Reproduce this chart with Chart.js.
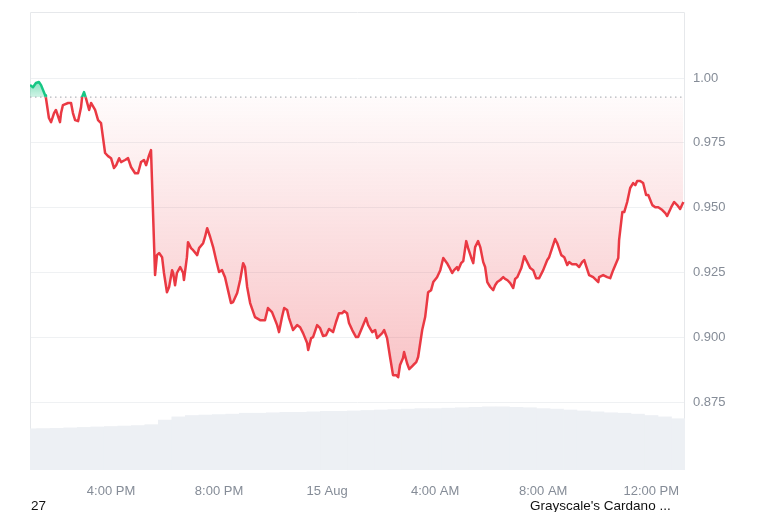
<!DOCTYPE html>
<html>
<head>
<meta charset="utf-8">
<script src="https://cdn.jsdelivr.net/npm/chart.js@4.4.1/dist/chart.umd.min.js"></script>
<style>
  body { margin: 0; background: #fff; }
  #wrap { position: relative; width: 768px; height: 512px; overflow: hidden; }
  .pie { position: absolute; top: 498px; font: 13.5px 'Liberation Sans', Arial, sans-serif; color: #111; white-space: nowrap; }
</style>
</head>
<body>
<div id="wrap">
  <canvas id="grafica" width="768" height="512"></canvas>
  <div class="pie" style="left:31px">27</div>
  <div class="pie" style="left:530px">Grayscale's Cardano ...</div>
</div>
<script>
// hours since 13:00 (14 Aug)
const horas = [
  0.00,0.11,0.22,0.33,0.41,0.56,0.59,0.70,0.78,0.89,
  0.96,1.11,1.15,1.22,1.41,1.52,1.59,1.67,1.78,1.89,
  1.93,2.00,2.07,2.19,2.26,2.41,2.52,2.63,2.70,2.78,
  2.89,3.00,3.11,3.19,3.30,3.37,3.52,3.63,3.74,3.89,
  4.00,4.11,4.22,4.30,4.41,4.48,4.63,4.70,4.78,4.89,
  4.96,5.07,5.15,5.26,5.30,5.37,5.44,5.56,5.67,5.70,
  5.81,5.85,5.96,6.04,6.19,6.26,6.41,6.48,6.56,6.67,
  6.78,6.89,7.00,7.11,7.22,7.33,7.44,7.52,7.67,7.78,
  7.89,7.96,8.04,8.15,8.33,8.52,8.70,8.81,8.96,9.15,
  9.22,9.33,9.41,9.52,9.59,9.74,9.89,10.00,10.11,10.26,
  10.30,10.41,10.48,10.63,10.74,10.85,10.96,11.07,11.22,11.33,
  11.44,11.56,11.63,11.74,11.81,11.93,12.07,12.15,12.30,12.44,
  12.52,12.67,12.78,12.85,13.04,13.11,13.22,13.33,13.44,13.56,
  13.63,13.70,13.81,13.85,13.96,14.04,14.19,14.30,14.37,14.52,
  14.63,14.74,14.85,14.93,15.07,15.19,15.30,15.44,15.52,15.63,
  15.70,15.81,15.85,15.96,16.04,16.15,16.22,16.33,16.41,16.48,
  16.59,16.67,16.78,16.85,16.93,17.04,17.15,17.22,17.30,17.41,
  17.52,17.59,17.67,17.78,17.89,17.96,18.04,18.19,18.30,18.41,
  18.52,18.63,18.74,18.85,19.00,19.15,19.22,19.33,19.44,19.52,
  19.67,19.78,19.89,19.96,20.07,20.22,20.33,20.44,20.52,20.59,
  20.70,20.85,21.04,21.07,21.22,21.37,21.48,21.59,21.78,21.81,
  21.93,22.00,22.11,22.22,22.33,22.41,22.48,22.59,22.70,22.81,
  22.89,23.04,23.15,23.26,23.41,23.52,23.59,23.74,23.85,23.96,
  24.07,24.19
];
const precios = [
  0.9973,0.9965,0.9981,0.9985,0.9973,0.9934,0.9923,0.9846,0.9830,0.9865,
  0.9877,0.9830,0.9865,0.9896,0.9904,0.9904,0.9865,0.9838,0.9834,0.9888,
  0.9927,0.9946,0.9923,0.9877,0.9904,0.9877,0.9838,0.9826,0.9772,0.9711,
  0.9699,0.9691,0.9653,0.9664,0.9691,0.9676,0.9684,0.9691,0.9657,0.9633,
  0.9633,0.9676,0.9684,0.9664,0.9703,0.9722,0.9240,0.9317,0.9325,0.9309,
  0.9248,0.9174,0.9194,0.9259,0.9248,0.9201,0.9248,0.9271,0.9248,0.9221,
  0.9309,0.9367,0.9344,0.9336,0.9317,0.9344,0.9363,0.9387,0.9421,0.9387,
  0.9348,0.9298,0.9252,0.9259,0.9232,0.9182,0.9132,0.9136,0.9171,0.9221,
  0.9286,0.9271,0.9194,0.9132,0.9078,0.9066,0.9066,0.9113,0.9097,0.9047,
  0.9020,0.9078,0.9113,0.9105,0.9074,0.9028,0.9047,0.9039,0.9016,0.8978,
  0.8951,0.8997,0.9001,0.9047,0.9035,0.9005,0.9008,0.9032,0.9020,0.9059,
  0.9093,0.9093,0.9101,0.9093,0.9055,0.9028,0.9001,0.9001,0.9039,0.9074,
  0.9047,0.9020,0.9028,0.8997,0.9016,0.9028,0.8997,0.8924,0.8854,0.8854,
  0.8846,0.8893,0.8920,0.8943,0.8900,0.8877,0.8893,0.8904,0.8924,0.9028,
  0.9078,0.9174,0.9182,0.9213,0.9232,0.9259,0.9306,0.9286,0.9271,0.9248,
  0.9259,0.9271,0.9259,0.9286,0.9294,0.9371,0.9344,0.9309,0.9286,0.9348,
  0.9371,0.9348,0.9290,0.9271,0.9213,0.9194,0.9182,0.9201,0.9213,0.9221,
  0.9232,0.9225,0.9221,0.9209,0.9190,0.9225,0.9232,0.9267,0.9313,0.9290,
  0.9267,0.9259,0.9228,0.9228,0.9259,0.9298,0.9309,0.9344,0.9379,0.9363,
  0.9317,0.9309,0.9279,0.9290,0.9282,0.9282,0.9271,0.9290,0.9298,0.9275,
  0.9240,0.9232,0.9213,0.9232,0.9240,0.9232,0.9228,0.9259,0.9306,0.9375,
  0.9483,0.9483,0.9522,0.9576,0.9595,0.9587,0.9603,0.9603,0.9595,0.9549,
  0.9549,0.9510,0.9502,0.9502,0.9491,0.9479,0.9468,0.9502,0.9522,0.9510,
  0.9495,0.9522
];
// volume, one value every 30 min from 13:00
const volumen = [
  9.0,9.05,9.1,9.2,9.3,9.4,9.5,9.6,9.7,9.9,
  10.9,11.6,11.9,12.0,12.1,12.2,12.4,12.4,12.5,12.6,
  12.6,12.7,12.8,12.8,12.9,13.0,13.1,13.2,13.3,13.4,
  13.4,13.5,13.6,13.7,13.8,13.8,13.7,13.6,13.4,13.3,
  13.1,12.9,12.7,12.5,12.4,12.2,11.9,11.6,11.2
];
const precioBase = 0.99267;
const ticksHoras = [3, 7, 11, 15, 19, 23];
const etiquetasX = ["4:00 PM", "8:00 PM", "15 Aug", "4:00 AM", "8:00 AM", "12:00 PM"];
const ticksY = [0.875, 0.9, 0.925, 0.95, 0.975, 1.0];
const etiquetasY = ["0.875", "0.900", "0.925", "0.950", "0.975", "1.00"];

const rojo = "#ea3943";
const verde = "#16c784";

Chart.defaults.font.family = "'Liberation Sans', Arial, sans-serif";

function gradLinea(chart){
  const {ctx, chartArea, scales} = chart;
  if (!chartArea) return rojo;
  const yb = scales.y.getPixelForValue(precioBase);
  let f = (yb - chartArea.top) / (chartArea.bottom - chartArea.top);
  f = Math.min(Math.max(f, 0), 1);
  const g = ctx.createLinearGradient(0, chartArea.top, 0, chartArea.bottom);
  g.addColorStop(0, verde);
  g.addColorStop(f, verde);
  g.addColorStop(f, rojo);
  g.addColorStop(1, rojo);
  return g;
}

function gradAbajo(chart){
  const {ctx, chartArea, scales} = chart;
  if (!chartArea) return "rgba(234,57,67,0.1)";
  const yb = scales.y.getPixelForValue(precioBase);
  const yMin = scales.y.getPixelForValue(Math.min(...precios));
  const g = ctx.createLinearGradient(0, yb, 0, yMin);
  g.addColorStop(0, "rgba(234,57,67,0.02)");
  g.addColorStop(1, "rgba(234,57,67,0.30)");
  return g;
}

function gradArriba(chart){
  const {ctx, chartArea, scales} = chart;
  if (!chartArea) return "rgba(22,199,132,0.3)";
  const yb = scales.y.getPixelForValue(precioBase);
  const yMax = scales.y.getPixelForValue(Math.max(...precios));
  const g = ctx.createLinearGradient(0, yMax, 0, yb);
  g.addColorStop(0, "rgba(22,199,132,0.5)");
  g.addColorStop(1, "rgba(22,199,132,0.2)");
  return g;
}

const marco = {
  id: "marco",
  beforeDatasetsDraw(chart){
    const {ctx, chartArea: a} = chart;
    ctx.save();
    ctx.strokeStyle = "#e6e8eb";
    ctx.lineWidth = 1;
    ctx.beginPath();
    ctx.moveTo(a.left + 0.5, a.bottom);
    ctx.lineTo(a.left + 0.5, a.top + 0.5);
    ctx.lineTo(a.right - 0.5, a.top + 0.5);
    ctx.lineTo(a.right - 0.5, a.bottom);
    ctx.stroke();
    ctx.restore();
  }
};

const grafica = new Chart("grafica", {
  type: "line",
  data: {
    datasets: [
      {
        type: "line",
        label: "base",
        data: [{x: 0, y: precioBase}, {x: 24.25, y: precioBase}],
        borderColor: "#9ea4ac",
        borderWidth: 1,
        borderDash: [1.5, 3.5],
        pointRadius: 0,
        fill: false,
        yAxisID: "y",
        order: 0
      },
      {
        type: "line",
        label: "precio",
        data: horas.map((h, i) => ({x: h, y: precios[i]})),
        borderColor: (c) => gradLinea(c.chart),
        borderWidth: 2.5,
        borderJoinStyle: "round",
        pointRadius: 0,
        tension: 0,
        fill: (c) => ({target: {value: precioBase}, above: gradArriba(c.chart), below: gradAbajo(c.chart)}),
        yAxisID: "y",
        order: 1
      },
      {
        type: "bar",
        label: "volumen",
        data: volumen.map((v, i) => ({x: i * 0.5, y: v})),
        backgroundColor: "#edf0f4",
        borderWidth: 0,
        barPercentage: 1,
        categoryPercentage: 1,
        yAxisID: "yVol",
        order: 2
      }
    ]
  },
  plugins: [marco],
  options: {
    responsive: false,
    animation: false,
    devicePixelRatio: 1,
    layout: {padding: {left: 30, top: 12, right: 0, bottom: 0}},
    plugins: {
      legend: {display: false},
      tooltip: {enabled: false}
    },
    scales: {
      x: {
        type: "linear",
        offset: false,
        min: 0,
        max: 24.25,
        grid: {display: false, drawTicks: false, offset: false},
        border: {display: false},
        afterBuildTicks: (s) => { s.ticks = ticksHoras.map(v => ({value: v})); },
        afterFit: (s) => { s.height = 42; s.paddingLeft = 0; s.paddingRight = 0; },
        ticks: {
          color: "#858c97",
          font: {size: 13},
          padding: 14,
          maxRotation: 0,
          autoSkip: false,
          callback: (v) => etiquetasX[ticksHoras.indexOf(v)]
        }
      },
      y: {
        position: "right",
        min: 0.8488,
        max: 1.0255,
        grid: {color: "#eff1f3", drawTicks: false},
        border: {display: false},
        afterBuildTicks: (s) => { s.ticks = ticksY.map(v => ({value: v})); },
        afterFit: (s) => { s.width = 83; s.paddingTop = 0; s.paddingBottom = 0; },
        ticks: {
          color: "#858c97",
          font: {size: 13},
          padding: 8,
          callback: (v) => etiquetasY[ticksY.indexOf(v)]
        }
      },
      yVol: {
        display: false,
        min: 0,
        max: 100
      }
    }
  }
});
</script>
</body>
</html>
